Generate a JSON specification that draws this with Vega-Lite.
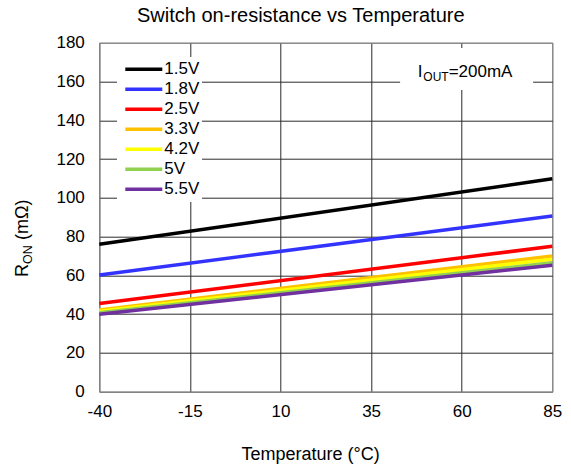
{
  "$schema": "https://vega.github.io/schema/vega-lite/v6.json",
  "width": 453,
  "height": 349,
  "autosize": {"type": "none"},
  "padding": {"left": 99.3, "top": 42.7, "right": 18.7, "bottom": 74.3},
  "background": "white",
  "config": {
    "font": "Liberation Sans",
    "view": {"stroke": "#808080", "strokeWidth": 1},
    "axisY": {
      "title": null,
      "grid": true,
      "gridColor": {"condition": {"test": "datum.value == 0 || datum.value == 180", "value": "#808080"}, "value": "#2a2a2a"},
      "gridWidth": 1,
      "ticks": false,
      "tickSize": 0,
      "labelPadding": 15,
      "labelOverlap": false,
      "labelFlush": false,
      "labelFontSize": 17,
      "labelColor": "#000000",
      "domainColor": "#808080"
    }
  },
  "title": {
    "text": "Switch on-resistance vs Temperature",
    "fontSize": 20,
    "fontWeight": "normal",
    "color": "#000000",
    "anchor": "middle",
    "dx": -25,
    "offset": -8,
    "baseline": "alphabetic"
  },
  "layer": [
    {
      "data": {
        "values": [
          {"voltage": "1.5V", "temp": -40, "ron": 76.0},
          {"voltage": "1.5V", "temp": 85, "ron": 109.8},
          {"voltage": "1.8V", "temp": -40, "ron": 60.2},
          {"voltage": "1.8V", "temp": 85, "ron": 90.6},
          {"voltage": "2.5V", "temp": -40, "ron": 45.5},
          {"voltage": "2.5V", "temp": 85, "ron": 75.0},
          {"voltage": "3.3V", "temp": -40, "ron": 42.2},
          {"voltage": "3.3V", "temp": 85, "ron": 70.0},
          {"voltage": "4.2V", "temp": -40, "ron": 41.5},
          {"voltage": "4.2V", "temp": 85, "ron": 68.3},
          {"voltage": "5V", "temp": -40, "ron": 40.7},
          {"voltage": "5V", "temp": 85, "ron": 66.5},
          {"voltage": "5.5V", "temp": -40, "ron": 40.0},
          {"voltage": "5.5V", "temp": 85, "ron": 65.2}
        ]
      },
      "mark": {"type": "line", "strokeWidth": 3.5},
      "encoding": {
        "x": {
          "field": "temp",
          "type": "quantitative",
          "scale": {"domain": [-40, 85], "nice": false, "zero": false},
          "axis": {
            "title": "Temperature (°C)",
            "values": [-40, -15, 10, 35, 60, 85],
            "labelExpr": "'' + datum.value",
            "grid": true,
            "gridColor": {"condition": {"test": "datum.value == -40 || datum.value == 85", "value": "#808080"}, "value": "#2a2a2a"},
            "gridWidth": 1,
            "ticks": false,
            "tickSize": 0,
            "labelPadding": 12,
            "labelFlush": false,
            "labelOverlap": false,
            "labelFontSize": 17,
            "labelColor": "#000000",
            "domainColor": "#808080",
            "titleFontSize": 18,
            "titleFontWeight": "normal",
            "titleColor": "#000000",
            "titleX": 210.7,
            "titleY": 68,
            "titleBaseline": "alphabetic"
          }
        },
        "y": {
          "field": "ron",
          "type": "quantitative",
          "scale": {"domain": [0, 180], "nice": false},
          "axis": {"title": null, "values": [0, 20, 40, 60, 80, 100, 120, 140, 160, 180], "labelExpr": "'' + datum.value"}
        },
        "color": {
          "field": "voltage",
          "type": "nominal",
          "scale": {
            "domain": ["1.5V", "1.8V", "2.5V", "3.3V", "4.2V", "5V", "5.5V"],
            "range": ["#000000", "#3333FF", "#FF0000", "#FFC000", "#FFFF00", "#92D050", "#7030A0"]
          },
          "legend": {
            "title": null,
            "orient": "none",
            "legendX": 17.7,
            "legendY": 14.3,
            "padding": 2.5,
            "fillColor": "white",
            "symbolType": "stroke",
            "symbolSize": 1369,
            "symbolStrokeWidth": 3.5,
            "symbolOffset": 3.8,
            "clipHeight": 19.5,
            "rowPadding": 0,
            "labelFontSize": 17,
            "labelOffset": 0,
            "labelColor": "#000000"
          }
        }
      }
    },
    {
      "data": {"values": [{}]},
      "mark": {"type": "rect", "color": "white"},
      "encoding": {
        "x": {"datum": 43},
        "x2": {"datum": 79.7},
        "y": {"datum": 177.3, "axis": {"title": null, "values": [0, 20, 40, 60, 80, 100, 120, 140, 160, 180], "labelExpr": "'' + datum.value"}},
        "y2": {"datum": 155.6}
      }
    },
    {
      "data": {"values": [{}]},
      "mark": {"type": "text", "text": "R", "angle": 270, "fontSize": 18, "align": "left", "baseline": "alphabetic", "dx": -38.5, "dy": -71.2, "color": "#000000"},
      "encoding": {"x": {"datum": -40}, "y": {"datum": 79, "axis": {"title": null, "values": [0, 20, 40, 60, 80, 100, 120, 140, 160, 180], "labelExpr": "'' + datum.value"}}}
    },
    {
      "data": {"values": [{}]},
      "mark": {"type": "text", "text": "ON", "angle": 270, "fontSize": 12.5, "align": "left", "baseline": "alphabetic", "dx": -25.5, "dy": -67.7, "color": "#000000"},
      "encoding": {"x": {"datum": -40}, "y": {"datum": 79, "axis": {"title": null, "values": [0, 20, 40, 60, 80, 100, 120, 140, 160, 180], "labelExpr": "'' + datum.value"}}}
    },
    {
      "data": {"values": [{}]},
      "mark": {"type": "text", "text": "(mΩ)", "angle": 270, "fontSize": 18, "align": "left", "baseline": "alphabetic", "dx": -1.5, "dy": -71.2, "color": "#000000"},
      "encoding": {"x": {"datum": -40}, "y": {"datum": 79, "axis": {"title": null, "values": [0, 20, 40, 60, 80, 100, 120, 140, 160, 180], "labelExpr": "'' + datum.value"}}}
    },
    {
      "data": {"values": [{}]},
      "mark": {"type": "text", "text": "I", "fontSize": 17, "align": "left", "baseline": "alphabetic", "color": "#000000"},
      "encoding": {"x": {"datum": 47.9}, "y": {"datum": 162.3, "axis": {"title": null, "values": [0, 20, 40, 60, 80, 100, 120, 140, 160, 180], "labelExpr": "'' + datum.value"}}}
    },
    {
      "data": {"values": [{}]},
      "mark": {"type": "text", "text": "OUT", "fontSize": 12, "align": "left", "baseline": "alphabetic", "dx": 5.5, "dy": 4, "color": "#000000"},
      "encoding": {"x": {"datum": 47.9}, "y": {"datum": 162.3, "axis": {"title": null, "values": [0, 20, 40, 60, 80, 100, 120, 140, 160, 180], "labelExpr": "'' + datum.value"}}}
    },
    {
      "data": {"values": [{}]},
      "mark": {"type": "text", "text": "=200mA", "fontSize": 17, "align": "left", "baseline": "alphabetic", "dx": 30.8, "color": "#000000"},
      "encoding": {"x": {"datum": 47.9}, "y": {"datum": 162.3, "axis": {"title": null, "values": [0, 20, 40, 60, 80, 100, 120, 140, 160, 180], "labelExpr": "'' + datum.value"}}}
    }
  ]
}
